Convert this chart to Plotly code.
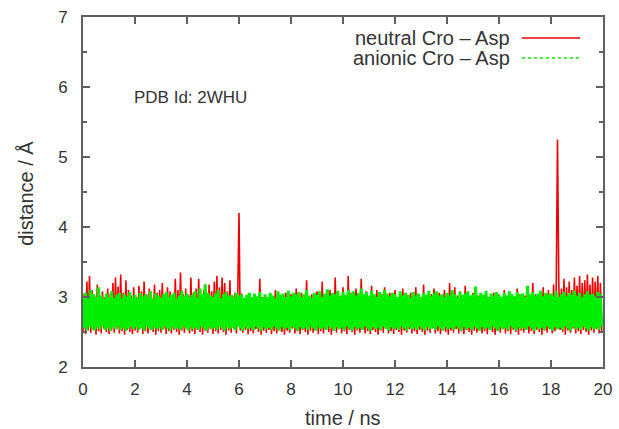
import numpy as np
import plotly.graph_objects as go

# Cro–Asp distance (Å) sampled every 0.05 ns, one row of text per nanosecond
neutral_txt = """
2.50 3.05 2.47 3.22 2.52 3.30 2.49 3.10 2.53 3.02 2.46 3.18 2.51 2.98 2.48 3.08 2.55 3.00 2.50 3.12
2.47 3.05 2.52 3.20 2.49 3.28 2.54 3.15 2.48 3.32 2.51 3.06 2.46 3.24 2.53 3.10 2.50 3.02 2.47 3.14
2.52 3.00 2.49 3.16 2.55 3.08 2.47 3.22 2.51 3.04 2.48 3.12 2.53 2.98 2.50 3.18 2.46 3.06 2.52 3.10
2.49 3.20 2.54 3.02 2.47 3.14 2.51 3.08 2.48 3.00 2.53 3.26 2.50 3.10 2.46 3.35 2.52 3.04 2.49 3.12
2.55 3.02 2.48 3.28 2.51 3.06 2.47 3.12 2.53 3.26 2.50 3.00 2.46 3.10 2.52 3.04 2.49 3.18 2.54 3.08
2.47 3.22 2.51 3.30 2.48 3.14 2.53 3.28 2.50 3.20 2.46 3.08 2.52 3.24 2.49 3.02 2.55 3.06 2.48 3.00
4.20 2.52 3.05 2.49 2.98 2.53 3.02 2.47 3.00 2.51 2.96 2.48 3.04 2.54 2.98 2.50 3.26 2.46 3.00 2.52
3.02 2.49 2.98 2.53 3.04 2.47 3.00 2.51 3.10 2.48 2.96 2.54 3.02 2.50 2.98 2.46 3.06 2.52 3.00 2.49
3.04 2.55 2.98 2.48 3.12 2.51 3.00 2.47 3.06 2.53 3.02 2.50 3.24 2.46 2.98 2.52 3.04 2.49 3.00 2.54
3.08 2.47 3.02 2.51 3.22 2.48 2.98 2.53 3.04 2.50 3.10 2.46 3.00 2.52 3.28 2.49 3.06 2.55 3.02 2.48
3.14 2.51 3.00 2.47 3.30 2.53 3.06 2.50 3.02 2.46 3.12 2.52 2.98 2.49 3.26 2.54 3.04 2.48 3.08 2.51
3.00 2.47 3.16 2.53 3.02 2.50 3.10 2.46 2.98 2.52 3.04 2.49 3.14 2.55 3.00 2.48 3.06 2.51 3.02 2.47
3.10 2.53 3.00 2.50 3.04 2.46 3.12 2.52 2.98 2.49 3.02 2.54 3.06 2.48 3.00 2.51 3.14 2.47 3.04 2.53
3.00 2.50 3.18 2.46 3.02 2.52 3.08 2.49 3.04 2.55 3.12 2.48 3.00 2.51 3.06 2.47 3.02 2.53 3.10 2.50
2.98 2.46 3.20 2.52 3.04 2.49 3.14 2.54 3.02 2.48 3.08 2.51 3.00 2.47 3.16 2.53 3.04 2.50 3.00 2.46
3.06 2.52 2.98 2.49 3.02 2.55 3.04 2.48 3.00 2.51 3.08 2.47 2.98 2.53 3.02 2.50 3.06 2.46 3.00 2.52
3.04 2.49 3.00 2.54 3.10 2.48 2.98 2.51 3.06 2.47 3.02 2.53 3.00 2.50 3.12 2.46 3.04 2.52 2.98 2.49
3.02 2.55 3.08 2.48 3.00 2.51 3.20 2.47 3.04 2.53 3.00 2.50 3.06 2.46 3.14 2.52 3.02 2.49 3.10 2.54
3.04 2.48 3.18 2.51 3.06 5.25 3.20 2.53 3.12 2.50 3.26 2.46 3.14 2.52 3.22 2.49 3.10 2.55 3.28 2.48
3.16 2.51 3.30 2.47 3.20 2.53 3.24 2.50 3.32 2.46 3.18 2.52 3.28 2.49 3.22 2.54 3.30 2.48 3.20 2.51
"""

anionic_txt = """
3.02 2.56 3.06 2.53 2.98 2.58 3.10 2.55 3.04 2.52 3.00 2.57 3.14 2.54 3.02 2.59 2.97 2.53 3.05 2.56
3.00 2.52 3.08 2.57 2.99 2.54 3.03 2.58 3.06 2.53 2.98 2.56 3.04 2.52 3.01 2.55 3.07 2.58 2.99 2.54
3.03 2.57 2.98 2.53 3.06 2.56 3.01 2.52 3.04 2.58 3.00 2.55 3.08 2.53 2.97 2.57 3.05 2.54 3.02 2.56
2.99 2.53 3.04 2.58 3.07 2.55 3.00 2.52 3.03 2.57 3.06 2.54 2.98 2.56 3.02 2.53 3.09 2.58 3.01 2.55
3.05 2.52 3.00 2.57 3.03 2.54 3.08 2.56 2.99 2.53 3.12 2.58 3.04 2.55 3.18 2.52 3.06 2.57 3.02 2.54
3.00 2.56 3.05 2.53 3.10 2.58 2.98 2.55 3.04 2.52 3.07 2.57 3.01 2.54 3.03 2.56 2.99 2.53 3.06 2.58
3.02 2.55 3.04 2.52 2.98 2.57 3.03 2.54 3.06 2.56 3.00 2.53 3.05 2.58 3.01 2.55 3.07 2.52 2.99 2.57
3.04 2.54 3.00 2.56 3.06 2.53 3.02 2.58 2.98 2.55 3.08 2.52 3.03 2.57 3.05 2.54 3.00 2.56 3.09 2.53
3.01 2.58 3.06 2.55 3.03 2.52 3.07 2.57 3.00 2.54 3.04 2.56 3.10 2.53 3.02 2.58 2.99 2.55 3.06 2.52
3.03 2.57 3.08 2.54 3.00 2.56 3.05 2.53 3.11 2.58 3.02 2.55 3.06 2.52 3.04 2.57 3.09 2.54 3.01 2.56
3.07 2.53 3.03 2.58 3.10 2.55 3.05 2.52 3.08 2.57 3.02 2.54 3.06 2.56 3.12 2.53 3.04 2.58 3.07 2.55
3.02 2.52 3.09 2.57 3.04 2.54 3.00 2.56 3.07 2.53 3.03 2.58 3.10 2.55 3.05 2.52 3.01 2.57 3.06 2.54
3.04 2.56 3.00 2.53 3.08 2.58 3.02 2.55 3.06 2.52 3.03 2.57 2.99 2.54 3.07 2.56 3.02 2.53 3.05 2.58
3.00 2.55 3.06 2.52 3.03 2.57 3.09 2.54 3.01 2.56 3.05 2.53 3.08 2.58 3.02 2.55 3.04 2.52 3.00 2.57
3.06 2.54 3.02 2.56 3.10 2.53 3.04 2.58 3.00 2.55 3.07 2.52 3.03 2.57 3.05 2.54 3.08 2.56 3.02 2.53
3.04 2.58 3.15 2.55 3.01 2.52 3.06 2.57 3.03 2.54 3.09 2.56 3.00 2.53 3.05 2.58 3.02 2.55 3.07 2.52
3.03 2.57 3.00 2.54 3.06 2.56 3.02 2.53 3.08 2.58 3.04 2.55 3.01 2.52 3.07 2.57 3.03 2.54 3.05 2.56
3.00 2.53 3.16 2.58 3.04 2.55 3.07 2.52 3.02 2.57 3.05 2.54 3.09 2.56 3.01 2.53 3.06 2.58 3.03 2.55
3.05 2.52 3.02 2.57 3.08 2.54 3.00 2.56 3.04 2.53 3.07 2.58 3.01 2.55 3.06 2.52 3.03 2.57 3.09 2.54
3.02 2.56 3.06 2.53 3.00 2.58 3.04 2.55 3.08 2.52 3.03 2.57 3.05 2.54 3.01 2.56 3.07 2.53 3.04 2.58
"""

neutral = [float(v) for v in neutral_txt.split()]
anionic = [float(v) for v in anionic_txt.split()]
dt = 0.05  # ns per frame
t_neutral = np.arange(len(neutral)) * dt
t_anionic = np.arange(len(anionic)) * dt

x_ticks = [0, 2, 4, 6, 8, 10, 12, 14, 16, 18, 20]
y_ticks = [2, 3, 4, 5, 6, 7]

RED = "#ee0000"
GREEN = "#00ee00"
AXIS = "#606060"
TEXT = "#333333"
FONT = "Liberation Sans, Arial, sans-serif"

fig = go.Figure()
fig.add_trace(go.Scatter(x=t_neutral, y=neutral, mode="lines",
                         line=dict(color=RED, width=1.6, simplify=False),
                         name="neutral Cro – Asp", showlegend=False))
fig.add_trace(go.Scatter(x=t_anionic, y=anionic, mode="lines",
                         line=dict(color=GREEN, width=3, simplify=False),
                         name="anionic Cro – Asp", showlegend=False))

# gnuplot-style key: label on the left, line sample on the right
key_rows = [("neutral Cro – Asp", RED, "solid", 0.94),
            ("anionic Cro – Asp", GREEN, "dot", 0.883)]
for label, col, dash, yy in key_rows:
    fig.add_annotation(xref="paper", yref="paper", x=0.825, y=yy,
                       text=label, showarrow=False, xanchor="right",
                       yanchor="middle", font=dict(size=20, color=TEXT, family=FONT))
    fig.add_shape(type="line", xref="paper", yref="paper",
                  x0=0.844, x1=0.956, y0=yy, y1=yy,
                  line=dict(color=col, width=1.5, dash=dash))

fig.add_annotation(xref="paper", yref="paper", x=0.094, y=0.769,
                   text="PDB Id: 2WHU", showarrow=False, xanchor="left",
                   yanchor="middle", font=dict(size=17, color=TEXT, family=FONT))

# axis titles
fig.add_annotation(xref="paper", yref="paper", x=0.5, y=-0.146,
                   text="time / ns", showarrow=False, xanchor="center",
                   yanchor="middle", font=dict(size=20, color=TEXT, family=FONT))
fig.add_annotation(xref="paper", yref="paper", x=-0.11, y=0.497,
                   text="distance / Å", showarrow=False, textangle=-90,
                   xanchor="center", yanchor="middle",
                   font=dict(size=20, color=TEXT, family=FONT))

axis_common = dict(showgrid=False, zeroline=False, showline=True,
                   linecolor=AXIS, linewidth=2, mirror="ticks",
                   ticks="inside", ticklen=7, tickwidth=1.5, tickcolor=AXIS,
                   automargin=False,
                   tickfont=dict(size=17, color=TEXT, family=FONT))

fig.update_xaxes(range=[0, 20], tickvals=x_ticks, ticklabelstandoff=6,
                 **axis_common)
fig.update_yaxes(range=[2, 7], tickvals=y_ticks, ticklabelstandoff=10,
                 minor=dict(dtick=0.5, ticks="inside", ticklen=4, tickcolor=AXIS, tickwidth=1.5),
                 **axis_common)

fig.update_layout(width=619, height=429,
                  margin=dict(l=83, r=16, t=17, b=62),
                  paper_bgcolor="white", plot_bgcolor="white",
                  font=dict(family=FONT, color=TEXT))

fig.write_html("out.html")
